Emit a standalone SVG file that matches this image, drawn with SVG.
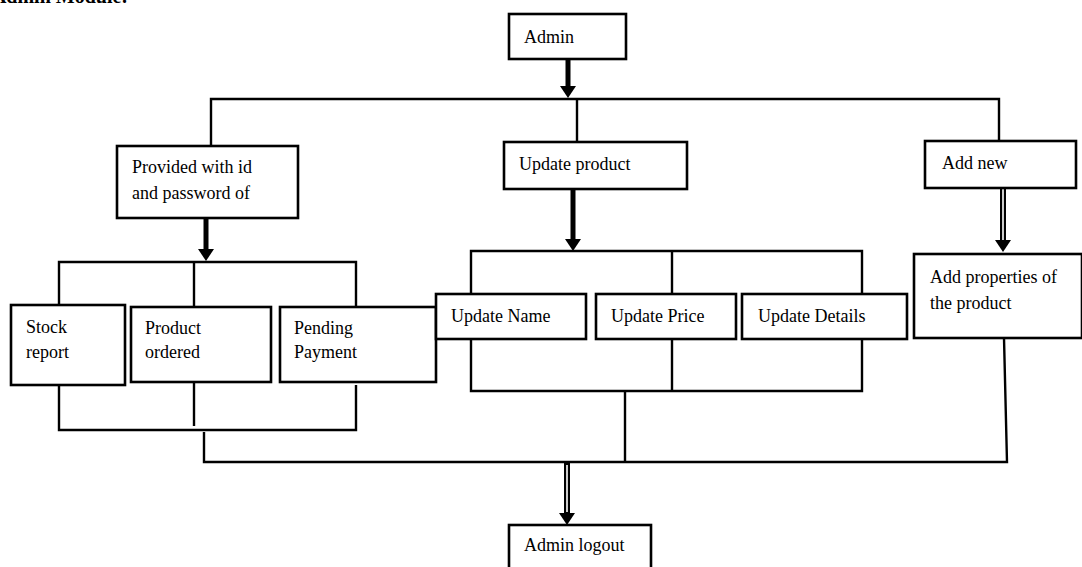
<svg xmlns="http://www.w3.org/2000/svg" width="1082" height="567" viewBox="0 0 1082 567">
<style>
.box{fill:#fff;stroke:#000;stroke-width:2.6}
.ln{fill:none;stroke:#000;stroke-width:2.4;stroke-linejoin:miter}
.thick{fill:none;stroke:#000;stroke-width:5}
.dblo{fill:none;stroke:#000;stroke-width:6}
.dbli{fill:none;stroke:#fff;stroke-width:1.6}
.t{font-family:"Liberation Serif","Times New Roman",serif;font-size:18px;fill:#000}
.title{font-family:"Liberation Serif","Times New Roman",serif;font-size:20px;font-weight:bold;fill:#000}
</style>
<defs>
<path id="head" d="M-8,-12 L8,-12 L0,0 Z" fill="#000"/>
</defs>
<rect width="1082" height="567" fill="#fff"/>
<text class="title" x="128" y="2.5" text-anchor="end">Admin Module:</text>

<g id="connectors">
<path class="ln" d="M211,147 V99 H999 V141"/>
<path class="ln" d="M577,99 V142"/>
<line class="thick" x1="568" y1="59" x2="568" y2="87"/>
<use href="#head" x="568" y="98"/>
<line class="thick" x1="206" y1="218" x2="206" y2="250"/>
<use href="#head" x="206" y="261"/>
<line class="thick" x1="573" y1="189" x2="573" y2="240"/>
<use href="#head" x="573" y="251"/>
<line class="dblo" x1="1003" y1="188" x2="1003" y2="241"/>
<line class="dbli" x1="1003" y1="189" x2="1003" y2="240"/>
<use href="#head" x="1003" y="252"/>
<path class="ln" d="M59,305 V262 H356 V307"/>
<path class="ln" d="M194,262 V307"/>
<path class="ln" d="M59,385 V430 H356 V385"/>
<path class="ln" d="M194,382 V426"/>
<path class="ln" d="M204,432 V462 H1007 L1004,338"/>
<path class="ln" d="M471,294 V251 H862 V294"/>
<path class="ln" d="M672,251 V294"/>
<path class="ln" d="M471,339 V391 H862 V339"/>
<path class="ln" d="M672,339 V391"/>
<path class="ln" d="M625,391 V462"/>
<line class="dblo" x1="567" y1="462" x2="567" y2="513"/>
<line class="dbli" x1="567" y1="465" x2="567" y2="512"/>
<use href="#head" x="567" y="525"/>
</g>

<g id="admin">
<rect class="box" x="509" y="14" width="117" height="45"/>
<text class="t" x="524" y="43">Admin</text>
</g>
<g id="provided">
<rect class="box" x="117" y="146" width="181" height="72"/>
<text class="t" x="132" y="173">Provided with id</text>
<text class="t" x="132" y="199">and password of</text>
</g>
<g id="update-product">
<rect class="box" x="504" y="142" width="183" height="47"/>
<text class="t" x="519" y="170">Update product</text>
</g>
<g id="add-new">
<rect class="box" x="925" y="141" width="151" height="47"/>
<text class="t" x="942" y="169">Add new</text>
</g>
<g id="stock-report">
<rect class="box" x="11" y="305" width="114" height="80"/>
<text class="t" x="26" y="333">Stock</text>
<text class="t" x="26" y="358">report</text>
</g>
<g id="product-ordered">
<rect class="box" x="131" y="307" width="140" height="75"/>
<text class="t" x="145" y="334">Product</text>
<text class="t" x="145" y="358">ordered</text>
</g>
<g id="pending-payment">
<rect class="box" x="280" y="307" width="156" height="75"/>
<text class="t" x="294" y="334">Pending</text>
<text class="t" x="294" y="358">Payment</text>
</g>
<g id="update-name">
<rect class="box" x="436" y="294" width="150" height="45"/>
<text class="t" x="451" y="322">Update Name</text>
</g>
<g id="update-price">
<rect class="box" x="596" y="294" width="140" height="45"/>
<text class="t" x="611" y="322">Update Price</text>
</g>
<g id="update-details">
<rect class="box" x="742" y="294" width="165" height="45"/>
<text class="t" x="758" y="322">Update Details</text>
</g>
<g id="add-properties">
<rect class="box" x="914" y="254" width="168" height="84"/>
<text class="t" x="930" y="283">Add properties of</text>
<text class="t" x="930" y="309">the product</text>
</g>
<g id="admin-logout">
<rect class="box" x="509" y="525" width="142" height="50"/>
<text class="t" x="524" y="551">Admin logout</text>
</g>
</svg>
